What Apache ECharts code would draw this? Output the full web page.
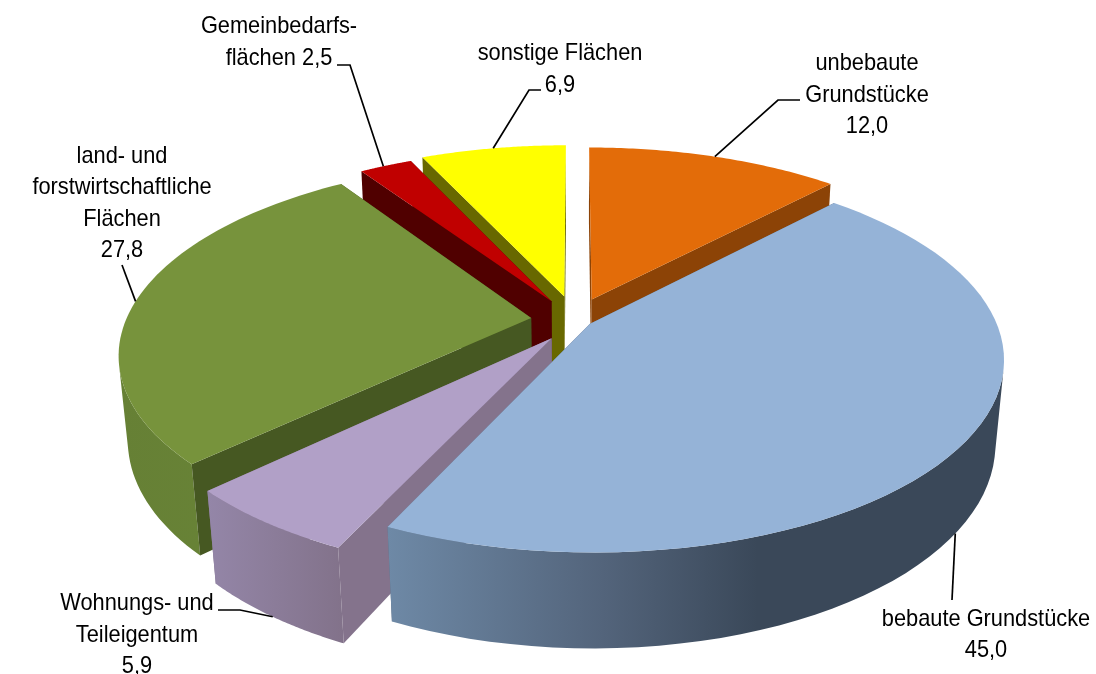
<!DOCTYPE html>
<html><head><meta charset="utf-8">
<script src="https://cdn.jsdelivr.net/npm/echarts@6/dist/echarts.min.js"></script>
<style>html,body{margin:0;padding:0;background:#fff}#c{width:1096px;height:674px}</style>
</head><body><div id="c"></div>
<script>
// Data, clockwise from 12 o'clock
const categories = ['unbebaute\nGrundstücke', 'bebaute Grundstücke', 'Wohnungs- und\nTeileigentum', 'land- und\nforstwirtschaftliche\nFlächen', 'Gemeinbedarfs-\nflächen', 'sonstige Flächen'];
const values = [12.0, 45.0, 5.9, 27.8, 2.5, 6.9];

// Styles
const topColors = ['#E36C09', '#95B3D7', '#B1A0C7', '#77933C', '#C00000', '#FFFF00'];
const wallColors = ['#8C4306', '#59697F', '#84738C', '#465822', '#500000', '#686800'];
const sideStops = [
  [[0, '#8C4306'], [1, '#8C4306']],
  [[0, '#6E89A6'], [0.35, '#53647B'], [0.6, '#3A4859'], [1, '#3A4859']],
  [[0, '#9486A8'], [1, '#82728A']],
  [[0, '#668035'], [1, '#6A8638']],
  [[0, '#500000'], [1, '#500000']],
  [[0, '#686800'], [1, '#686800']]
];
// Layout: how far each slice is pulled out of the centre, in disc units (sideways, backwards)
const pullX = [17, 15, -23, -44, -24, -11];
const pullY = [50, -4, -35, 9, 46, 57];
const drawOrder = [0, 5, 4, 3, 2, 1];
const labelPos = [[867, 95], [986, 635], [137, 635], [122, 203.5], [279, 42.5], [560, 69.5]];
const labelSep = ['\n', '\n', '\n', '\n', ' ', '\n'];
const leaders = [
  { f: 0.50, z: 0, via: [[778, 100], [800, 100]] },
  { f: 0.505, z: 1, via: [[952, 600]] },
  { f: 0.50, z: 1, via: [[240, 610], [218, 610]] },
  { f: 0.49, z: 0, via: [[122, 265]] },
  { f: 0.45, z: 0, via: [[350, 65], [337, 65]] },
  { f: 0.50, z: 0, via: [[529, 90], [541, 90]] }
];
const CX = 575, CY = 322, R = 406, K = 0.46, P = 0.18, Q = 0.02, H = 85, N = 64;
const total = values.reduce((a, b) => a + b, 0);
function fmt(v) { return v.toFixed(1).replace('.', ','); }
function angles(i) {
  let s = 0;
  for (let j = 0; j < i; j++) s += values[j];
  return [s / total * Math.PI * 2, (s + values[i]) / total * Math.PI * 2];
}
function project(i, th, r, z) {
  const u = r * Math.sin(th) + pullX[i] / R;
  const v = r * Math.cos(th) + pullY[i] / R;
  const d = 1 + P * v + Q * z;
  return [CX + R * u / d, CY - R * K * v / d + H * z / d];
}
function area(p) {
  let a = 0;
  for (let i = 0; i < p.length; i++) { const q = p[(i + 1) % p.length]; a += p[i][0] * q[1] - q[0] * p[i][1]; }
  return a;
}
function poly(points, fill) {
  return { type: 'polygon', shape: { points }, style: { fill, stroke: null } };
}
function renderItem(params, api) {
  const i = api.value(0);
  const [a0, a1] = angles(i);
  const top = [], bot = [];
  for (let n = 0; n <= N; n++) {
    const t = a0 + (a1 - a0) * n / N;
    top.push(project(i, t, 1, 0));
    bot.push(project(i, t, 1, 1));
  }
  const cT = project(i, 0, 0, 0), cB = project(i, 0, 0, 1);
  const children = [];
  const walls = [[cT, top[0], bot[0], cB], [cT, top[N], bot[N], cB]];
  const faces = walls.map((w, k) => ({ w, front: k === 0 ? area(w) < 0 : area(w) > 0 }));
  faces.filter(f => !f.front).forEach(f => children.push(poly(f.w, wallColors[i])));
  // outer rim: only the part that faces the viewer
  let first = -1, last = -1;
  for (let n = 0; n < N; n++) {
    if (area([top[n], top[n + 1], bot[n + 1], bot[n]]) < 0) { if (first < 0) first = n; last = n + 1; }
  }
  if (first >= 0) {
    const xs = top.concat(bot).map(p => p[0]);
    const x0 = Math.min(...xs), x1 = Math.max(...xs);
    const stops = sideStops[i].map(s => ({ offset: s[0], color: s[1] }));
    const t = top.slice(first, last + 1), b = bot.slice(first, last + 1).reverse();
    children.push(poly(t.concat(b), new echarts.graphic.LinearGradient(x0, 0, x1, 0, stops, true)));
  }
  faces.filter(f => f.front).forEach(f => children.push(poly(f.w, wallColors[i])));
  children.push(poly([cT].concat(top), topColors[i]));
  return { type: 'group', children };
}
function renderLeader(params, api) {
  const i = api.value(0);
  const [a0, a1] = angles(i);
  const l = leaders[i];
  const start = project(i, a0 + (a1 - a0) * l.f, 1, l.z);
  return { type: 'polyline', shape: { points: [start].concat(l.via) },
    style: { stroke: '#000', lineWidth: 1.7, fill: null } };
}
function renderLabel(params, api) {
  const i = api.value(0);
  return { type: 'text', x: labelPos[i][0], y: labelPos[i][1], scaleX: 0.908, style: {
    text: categories[i] + labelSep[i] + fmt(values[i]),
    x: 0, y: 0, align: 'center', verticalAlign: 'middle',
    fontFamily: '"Liberation Sans", Arial, sans-serif',
    fontSize: 24, lineHeight: 31.5, fill: '#000' } };
}
const chart = echarts.init(document.getElementById('c'), null, { renderer: 'canvas' });
chart.setOption({
  animation: false, backgroundColor: '#fff',
  series: [
    { type: 'custom', coordinateSystem: 'none', renderItem, silent: true, z: 1,
      data: drawOrder.map(i => [i, values[i]]) },
    { type: 'custom', coordinateSystem: 'none', renderItem: renderLeader, silent: true, z: 2,
      data: values.map((v, i) => [i, v]) },
    { type: 'custom', coordinateSystem: 'none', renderItem: renderLabel, silent: true, z: 3,
      data: values.map((v, i) => [i, v]) }
  ]
});
</script></body></html>
